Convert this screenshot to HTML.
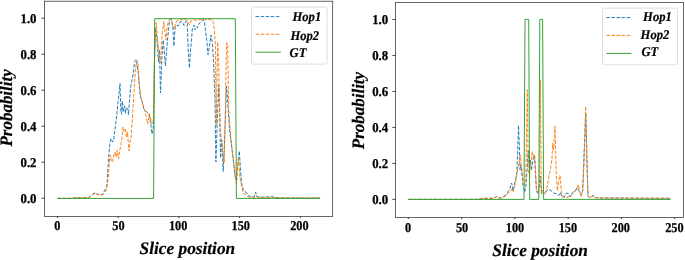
<!DOCTYPE html>
<html><head><meta charset="utf-8"><style>
html,body{margin:0;padding:0;background:#fff;}
body{width:685px;height:260px;overflow:hidden;}
svg{display:block;will-change:transform;text-rendering:geometricPrecision;}
.tl{font-family:"Liberation Serif",serif;font-weight:bold;font-size:12.6px;fill:#000;stroke:#000;stroke-width:0.25px;}
.al{font-family:"Liberation Serif",serif;font-weight:bold;font-style:italic;font-size:17.5px;fill:#000;stroke:#000;stroke-width:0.2px;}
.lg{font-family:"Liberation Serif",serif;font-weight:bold;font-style:italic;font-size:12.6px;fill:#000;stroke:#000;stroke-width:0.2px;}
.tkx{stroke:#222;stroke-width:0.9;}
.tky{stroke:#222;stroke-width:0.8;}
</style></head><body>
<svg width="685" height="260" viewBox="0 0 685 260">
<polyline points="57.5,198.4 73.0,198.4 75.0,197.6 88.6,197.5 92.1,194.8 95.0,192.5 96.7,194.2 99.0,194.2 102.5,194.8 103.6,192.5 104.8,190.2 106.5,187.3 107.0,185.0 107.7,172.0 109.2,150.0 109.7,145.4 111.0,138.5 112.7,142.0 113.8,139.6 115.0,129.0 116.2,120.0 118.5,98.0 120.0,83.5 120.8,110.4 121.5,114.2 122.3,101.0 123.0,112.0 124.6,105.8 125.4,113.5 126.2,107.3 127.7,108.8 128.5,115.0 129.2,104.2 130.0,95.0 130.8,85.8 132.3,78.8 133.0,75.0 133.8,68.8 134.6,61.9 135.4,60.4 136.5,59.6 137.2,66.0 138.5,75.0 140.0,95.0 140.8,98.0 142.3,102.7 143.8,108.8 146.9,112.0 149.2,115.0 150.5,122.0 152.0,134.0 153.3,128.0 154.5,60.0 155.5,28.0 157.0,40.0 158.5,62.0 159.5,50.0 160.5,93.0 162.0,55.0 163.3,40.0 165.4,66.0 167.5,40.0 169.6,20.0 171.3,19.2 172.8,26.0 173.9,46.0 175.2,27.0 177.1,25.0 178.3,26.1 180.0,22.0 181.1,21.5 182.9,23.2 184.0,25.5 185.2,22.6 186.3,21.0 187.2,22.0 188.3,50.0 189.4,68.0 190.5,50.0 191.5,40.0 192.3,29.0 194.1,25.0 195.2,30.0 196.4,26.7 197.5,27.8 198.7,24.4 200.4,22.0 202.1,20.3 203.3,19.8 204.5,22.0 205.6,31.3 206.8,40.5 208.0,54.6 209.6,45.0 211.0,35.0 212.2,42.0 213.5,60.0 215.0,100.0 215.9,162.0 217.3,120.0 218.8,85.0 219.8,120.0 220.6,158.0 221.8,140.0 223.2,171.5 224.6,140.0 226.5,86.0 227.6,100.0 229.5,130.0 231.5,145.0 233.5,162.0 235.0,176.0 236.0,180.0 237.3,168.0 239.3,151.0 240.5,170.0 241.5,183.0 243.5,190.6 245.0,191.5 247.0,193.0 249.0,196.0 251.0,197.0 254.0,197.0 255.6,192.0 257.0,197.0 262.0,197.3 268.0,197.0 272.0,196.6 276.0,197.6 280.0,198.0 320.0,198.1" fill="none" stroke="#1f77b4" stroke-width="0.96" stroke-dasharray="3.55,1.53" stroke-linejoin="round"/>
<polyline points="57.5,198.4 73.0,198.4 75.0,197.7 88.6,197.6 92.1,195.2 95.0,193.2 96.7,194.6 99.0,194.6 102.5,195.0 103.6,193.5 105.9,191.3 107.0,186.0 108.5,175.0 109.5,160.0 110.5,155.0 111.5,162.0 112.7,161.5 113.8,155.0 115.0,152.0 116.0,157.0 117.3,150.0 118.5,159.0 119.5,152.0 120.8,145.0 122.0,138.0 123.0,127.0 124.2,131.5 125.4,129.0 126.5,137.0 127.5,132.0 128.9,151.0 130.0,142.0 131.0,138.0 132.3,120.0 133.8,95.0 135.4,70.4 136.2,64.2 136.9,60.4 137.7,61.2 138.5,70.4 139.2,82.7 140.8,96.5 143.0,104.2 144.6,110.4 146.2,116.5 147.7,124.2 148.5,121.0 149.2,113.5 150.5,118.0 152.0,124.0 153.3,120.0 154.5,60.0 156.3,22.7 157.2,35.0 158.0,44.0 159.5,58.0 160.3,63.0 161.2,50.0 162.0,35.0 163.8,21.5 164.6,28.0 166.0,40.0 167.3,25.5 169.0,20.3 171.3,19.2 173.0,26.7 174.2,29.0 176.5,21.0 180.0,19.8 184.6,19.2 186.0,19.5 187.7,21.0 189.5,25.0 190.6,22.0 191.8,19.8 197.5,20.3 200.0,19.5 205.0,19.2 210.0,19.5 212.5,20.0 213.1,22.0 214.3,29.0 214.8,37.0 215.4,43.0 216.3,125.0 217.6,42.0 218.5,60.0 220.2,129.0 222.0,145.0 224.2,163.0 225.2,120.0 226.5,43.0 227.6,43.0 228.8,110.0 231.0,140.0 233.5,160.0 235.0,175.0 236.5,184.0 237.5,170.0 238.4,157.0 240.0,178.0 242.0,188.0 243.5,193.8 246.0,194.4 248.0,196.8 252.0,197.3 258.0,197.0 262.0,197.4 270.0,197.7 280.0,198.0 320.0,198.1" fill="none" stroke="#ff7f0e" stroke-width="0.96" stroke-dasharray="3.55,1.53" stroke-linejoin="round"/>
<polyline points="57.5,198.4 153.6,198.4 154.7,18.7 235.3,18.7 236.4,198.4 320.1,198.4" fill="none" stroke="#2ca02c" stroke-width="0.96"/>
<rect x="44.5" y="1.2" width="288.20" height="215.30" fill="none" stroke="#333" stroke-width="0.75"/>
<line x1="57.50" y1="216.5" x2="57.50" y2="218.1" class="tkx"/>
<line x1="118.20" y1="216.5" x2="118.20" y2="218.1" class="tkx"/>
<line x1="178.90" y1="216.5" x2="178.90" y2="218.1" class="tkx"/>
<line x1="239.60" y1="216.5" x2="239.60" y2="218.1" class="tkx"/>
<line x1="300.30" y1="216.5" x2="300.30" y2="218.1" class="tkx"/>
<line x1="41.4" y1="198.20" x2="44.5" y2="198.20" class="tky"/>
<line x1="41.4" y1="162.20" x2="44.5" y2="162.20" class="tky"/>
<line x1="41.4" y1="126.20" x2="44.5" y2="126.20" class="tky"/>
<line x1="41.4" y1="90.20" x2="44.5" y2="90.20" class="tky"/>
<line x1="41.4" y1="54.20" x2="44.5" y2="54.20" class="tky"/>
<line x1="41.4" y1="18.20" x2="44.5" y2="18.20" class="tky"/>
<rect x="251.5" y="7.1" width="75.5" height="57" rx="2" ry="2" fill="#fff" fill-opacity="0.8" stroke="#d6d6d6" stroke-width="0.8"/>
<line x1="255.5" y1="16.6" x2="280.8" y2="16.6" stroke="#1f77b4" stroke-width="0.96" stroke-dasharray="3.55,1.53"/>
<line x1="255.5" y1="34.2" x2="280.8" y2="34.2" stroke="#ff7f0e" stroke-width="0.96" stroke-dasharray="3.55,1.53"/>
<line x1="255.5" y1="52.2" x2="280.8" y2="52.2" stroke="#2ca02c" stroke-width="0.96"/>
<polyline points="408.3,199.4 478.0,199.4 481.0,198.4 494.0,198.3 496.9,196.5 498.5,197.8 501.5,197.8 503.8,196.2 506.2,194.6 508.5,190.8 510.0,188.5 511.5,183.0 512.3,185.4 513.0,190.8 513.8,187.7 515.4,180.0 516.9,172.3 517.7,150.0 518.5,125.4 519.5,150.0 520.0,170.0 521.0,165.0 522.0,175.0 523.0,185.0 524.6,192.3 525.8,187.7 527.0,170.0 528.3,150.8 529.0,165.0 530.4,160.0 531.5,170.0 533.0,160.0 534.5,155.0 535.5,175.0 536.5,190.8 538.0,193.8 539.5,185.0 540.5,176.0 541.5,193.8 543.5,192.3 545.0,193.8 546.5,190.8 548.8,189.2 551.2,190.8 553.5,193.0 556.5,193.8 558.8,195.4 560.4,192.3 561.9,197.0 564.2,197.0 566.5,193.0 568.8,193.8 570.4,197.0 572.7,192.3 575.0,190.8 577.3,187.7 578.8,190.8 581.2,195.4 582.7,190.8 584.2,150.0 585.8,113.0 586.8,150.0 588.0,196.2 589.6,197.5 591.2,197.0 593.5,195.4 595.0,197.7 598.0,197.7 602.7,198.0 670.7,198.3" fill="none" stroke="#1f77b4" stroke-width="0.96" stroke-dasharray="3.55,1.53" stroke-linejoin="round"/>
<polyline points="408.3,199.4 478.0,199.4 481.0,198.4 494.0,198.3 496.9,196.2 498.5,197.8 501.5,197.8 504.0,197.0 506.2,195.5 509.2,192.3 511.5,189.2 513.0,192.3 514.6,186.0 516.0,180.0 517.5,170.0 518.5,165.0 519.5,160.0 520.3,155.0 521.2,165.0 522.0,170.0 523.0,181.5 524.5,185.0 525.8,180.0 527.3,89.8 528.2,170.0 529.5,175.0 530.5,165.0 532.3,151.5 533.3,158.0 534.6,154.6 535.5,170.0 536.5,189.2 538.0,192.0 539.5,185.0 540.4,80.4 541.3,193.8 542.5,190.0 543.5,192.3 545.0,193.0 545.8,192.3 547.3,186.0 548.8,177.0 550.4,169.2 551.9,160.0 552.8,143.0 553.6,150.0 555.0,126.2 556.3,175.0 557.3,190.8 559.6,175.4 560.4,177.0 561.2,190.8 562.7,197.0 565.0,197.7 568.0,197.0 571.2,195.4 573.5,192.3 575.8,190.8 577.3,187.7 578.3,184.6 579.6,190.8 581.2,196.2 582.7,190.8 584.2,160.0 585.6,106.5 586.6,160.0 588.0,196.2 589.6,197.7 593.5,196.0 595.0,197.7 600.0,198.0 670.7,198.3" fill="none" stroke="#ff7f0e" stroke-width="0.96" stroke-dasharray="3.55,1.53" stroke-linejoin="round"/>
<polyline points="408.3,199.4 524.0,199.4 525.0,19.4 528.7,19.4 529.7,199.4 538.8,199.4 539.8,19.4 542.6,19.4 543.6,199.4 670.7,199.4" fill="none" stroke="#2ca02c" stroke-width="0.96"/>
<rect x="395.4" y="2.5" width="288.00" height="215.00" fill="none" stroke="#333" stroke-width="0.75"/>
<line x1="408.30" y1="217.5" x2="408.30" y2="219.1" class="tkx"/>
<line x1="461.58" y1="217.5" x2="461.58" y2="219.1" class="tkx"/>
<line x1="514.86" y1="217.5" x2="514.86" y2="219.1" class="tkx"/>
<line x1="568.14" y1="217.5" x2="568.14" y2="219.1" class="tkx"/>
<line x1="621.42" y1="217.5" x2="621.42" y2="219.1" class="tkx"/>
<line x1="674.70" y1="217.5" x2="674.70" y2="219.1" class="tkx"/>
<line x1="392.29999999999995" y1="199.40" x2="395.4" y2="199.40" class="tky"/>
<line x1="392.29999999999995" y1="163.42" x2="395.4" y2="163.42" class="tky"/>
<line x1="392.29999999999995" y1="127.44" x2="395.4" y2="127.44" class="tky"/>
<line x1="392.29999999999995" y1="91.46" x2="395.4" y2="91.46" class="tky"/>
<line x1="392.29999999999995" y1="55.48" x2="395.4" y2="55.48" class="tky"/>
<line x1="392.29999999999995" y1="19.50" x2="395.4" y2="19.50" class="tky"/>
<rect x="602.5" y="8.2" width="75.0" height="56.6" rx="2" ry="2" fill="#fff" fill-opacity="0.8" stroke="#d6d6d6" stroke-width="0.8"/>
<line x1="606.3" y1="17.6" x2="631.4" y2="17.6" stroke="#1f77b4" stroke-width="0.96" stroke-dasharray="3.55,1.53"/>
<line x1="606.3" y1="35.4" x2="631.4" y2="35.4" stroke="#ff7f0e" stroke-width="0.96" stroke-dasharray="3.55,1.53"/>
<line x1="606.3" y1="53.4" x2="631.4" y2="53.4" stroke="#2ca02c" stroke-width="0.96"/>
<text id="ytL0" class="tl" x="36.50" y="203.10" text-anchor="end" style="font-size:13.50px" textLength="16.03" lengthAdjust="spacingAndGlyphs">0.0</text>
<text id="ytR0" class="tl" x="388.20" y="204.30" text-anchor="end" style="font-size:13.50px" textLength="16.03" lengthAdjust="spacingAndGlyphs">0.0</text>
<text id="ytL1" class="tl" x="36.50" y="167.10" text-anchor="end" style="font-size:13.50px" textLength="16.03" lengthAdjust="spacingAndGlyphs">0.2</text>
<text id="ytR1" class="tl" x="388.20" y="168.32" text-anchor="end" style="font-size:13.50px" textLength="16.03" lengthAdjust="spacingAndGlyphs">0.2</text>
<text id="ytL2" class="tl" x="36.50" y="131.10" text-anchor="end" style="font-size:13.50px" textLength="16.03" lengthAdjust="spacingAndGlyphs">0.4</text>
<text id="ytR2" class="tl" x="388.20" y="132.34" text-anchor="end" style="font-size:13.50px" textLength="16.03" lengthAdjust="spacingAndGlyphs">0.4</text>
<text id="ytL3" class="tl" x="36.50" y="95.10" text-anchor="end" style="font-size:13.50px" textLength="16.03" lengthAdjust="spacingAndGlyphs">0.6</text>
<text id="ytR3" class="tl" x="388.20" y="96.36" text-anchor="end" style="font-size:13.50px" textLength="16.03" lengthAdjust="spacingAndGlyphs">0.6</text>
<text id="ytL4" class="tl" x="36.50" y="59.10" text-anchor="end" style="font-size:13.50px" textLength="16.03" lengthAdjust="spacingAndGlyphs">0.8</text>
<text id="ytR4" class="tl" x="388.20" y="60.38" text-anchor="end" style="font-size:13.50px" textLength="16.03" lengthAdjust="spacingAndGlyphs">0.8</text>
<text id="ytL5" class="tl" x="36.50" y="23.10" text-anchor="end" style="font-size:13.50px" textLength="16.03" lengthAdjust="spacingAndGlyphs">1.0</text>
<text id="ytR5" class="tl" x="388.20" y="24.40" text-anchor="end" style="font-size:13.50px" textLength="16.03" lengthAdjust="spacingAndGlyphs">1.0</text>
<text id="xtL0" class="tl" x="57.40" y="230.00" text-anchor="middle" style="font-size:13.50px" textLength="6.14" lengthAdjust="spacingAndGlyphs">0</text>
<text id="xtL1" class="tl" x="118.45" y="230.00" text-anchor="middle" style="font-size:13.50px" textLength="12.29" lengthAdjust="spacingAndGlyphs">50</text>
<text id="xtL2" class="tl" x="178.15" y="230.00" text-anchor="middle" style="font-size:13.50px" textLength="18.43" lengthAdjust="spacingAndGlyphs">100</text>
<text id="xtL3" class="tl" x="240.75" y="230.00" text-anchor="middle" style="font-size:13.50px" textLength="18.43" lengthAdjust="spacingAndGlyphs">150</text>
<text id="xtL4" class="tl" x="299.35" y="230.00" text-anchor="middle" style="font-size:13.50px" textLength="18.43" lengthAdjust="spacingAndGlyphs">200</text>
<text id="xtR0" class="tl" x="408.10" y="232.00" text-anchor="middle" style="font-size:13.50px" textLength="6.14" lengthAdjust="spacingAndGlyphs">0</text>
<text id="xtR1" class="tl" x="462.05" y="232.00" text-anchor="middle" style="font-size:13.50px" textLength="12.29" lengthAdjust="spacingAndGlyphs">50</text>
<text id="xtR2" class="tl" x="515.05" y="232.00" text-anchor="middle" style="font-size:13.50px" textLength="18.43" lengthAdjust="spacingAndGlyphs">100</text>
<text id="xtR3" class="tl" x="567.85" y="232.00" text-anchor="middle" style="font-size:13.50px" textLength="18.43" lengthAdjust="spacingAndGlyphs">150</text>
<text id="xtR4" class="tl" x="620.80" y="232.00" text-anchor="middle" style="font-size:13.50px" textLength="18.43" lengthAdjust="spacingAndGlyphs">200</text>
<text id="xtR5" class="tl" x="674.35" y="232.00" text-anchor="middle" style="font-size:13.50px" textLength="18.43" lengthAdjust="spacingAndGlyphs">250</text>
<text id="xlL" class="al" x="139.60" y="253.90" text-anchor="start" style="font-size:17.50px" textLength="95.60" lengthAdjust="spacingAndGlyphs">Slice position</text>
<text id="xlR" class="al" x="492.30" y="256.40" text-anchor="start" style="font-size:17.50px" textLength="95.60" lengthAdjust="spacingAndGlyphs">Slice position</text>
<text id="ylL" class="al" transform="translate(11.50,146.60) rotate(-90)" text-anchor="start" style="font-size:17.50px" textLength="77.40" lengthAdjust="spacingAndGlyphs">Probability</text>
<text id="ylR" class="al" transform="translate(364.00,149.20) rotate(-90)" text-anchor="start" style="font-size:17.50px" textLength="77.30" lengthAdjust="spacingAndGlyphs">Probability</text>
<text id="lgL1" class="lg" x="292.50" y="20.90" text-anchor="start" style="font-size:13.40px" textLength="28.70" lengthAdjust="spacingAndGlyphs">Hop1</text>
<text id="lgL2" class="lg" x="290.40" y="39.70" text-anchor="start" style="font-size:13.40px" textLength="28.70" lengthAdjust="spacingAndGlyphs">Hop2</text>
<text id="lgL3" class="lg" x="289.60" y="57.40" text-anchor="start" style="font-size:13.40px" textLength="16.80" lengthAdjust="spacingAndGlyphs">GT</text>
<text id="lgR1" class="lg" x="643.10" y="20.90" text-anchor="start" style="font-size:13.40px" textLength="28.70" lengthAdjust="spacingAndGlyphs">Hop1</text>
<text id="lgR2" class="lg" x="640.60" y="39.30" text-anchor="start" style="font-size:13.40px" textLength="28.70" lengthAdjust="spacingAndGlyphs">Hop2</text>
<text id="lgR3" class="lg" x="641.40" y="56.40" text-anchor="start" style="font-size:13.40px" textLength="16.80" lengthAdjust="spacingAndGlyphs">GT</text>
</svg>
</body></html>
